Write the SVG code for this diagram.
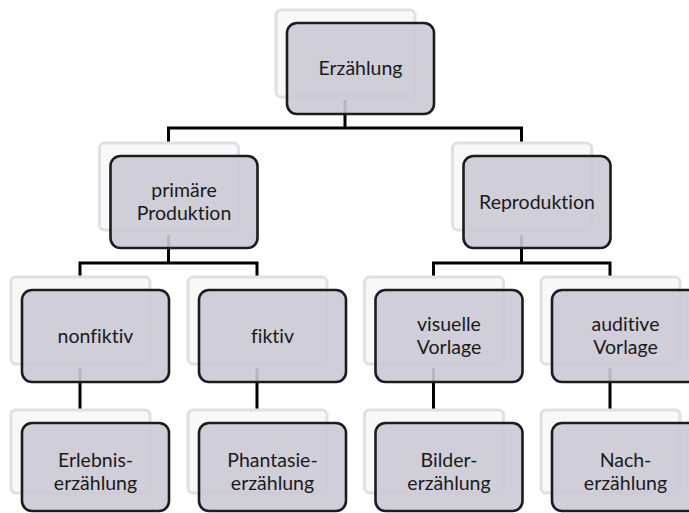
<svg xmlns="http://www.w3.org/2000/svg" width="689" height="513" viewBox="0 0 689 513">
<style>
.sh{fill:#f8f8f9;stroke:#e0e0e2;stroke-width:3}
.bx{fill:#cbc9d5;fill-opacity:0.9;stroke:#1c1c1c;stroke-width:2.6}
.t{font-family:Lato,"Liberation Sans",sans-serif;font-size:19.5px;fill:#1a1a1a;text-anchor:middle;font-variant-ligatures:none}
.cn{fill:none;stroke:#000;stroke-width:3;stroke-linejoin:miter}
</style>
<rect width="689" height="513" fill="#fff"/>
<g id="connectors" class="cn">
<path d="M345,100V128"/>
<path d="M168.5,143V128H521.5V143"/>
<path d="M168.5,235V263"/>
<path d="M80,277V263H257V277"/>
<path d="M521.5,235V263"/>
<path d="M433.5,277V263H610V277"/>
<path d="M80,368V410"/>
<path d="M257,368V410"/>
<path d="M433.5,368V410"/>
<path d="M610,368V410"/>
</g>
<g id="n-erzaehlung">
<rect class="sh" x="276" y="10" width="139" height="87" rx="5"/>
<rect class="bx" x="287" y="23" width="147" height="91" rx="10"/>
<text class="t" x="360.5" y="75">Erzählung</text>
</g>
<g id="n-primaere">
<rect class="sh" x="99.5" y="143" width="139" height="87" rx="5"/>
<rect class="bx" x="110.5" y="156" width="147" height="92" rx="10"/>
<text class="t" x="184" y="197">primäre</text>
<text class="t" x="184" y="220">Produktion</text>
</g>
<g id="n-reproduktion">
<rect class="sh" x="452.5" y="143" width="139" height="87" rx="5"/>
<rect class="bx" x="463.5" y="156" width="147" height="92" rx="10"/>
<text class="t" x="537" y="209">Reproduktion</text>
</g>
<g id="n-nonfiktiv">
<rect class="sh" x="11" y="277" width="139" height="87" rx="5"/>
<rect class="bx" x="22" y="290" width="147" height="92" rx="10"/>
<text class="t" x="95.5" y="343">nonfiktiv</text>
</g>
<g id="n-fiktiv">
<rect class="sh" x="188" y="277" width="139" height="87" rx="5"/>
<rect class="bx" x="199" y="290" width="147" height="92" rx="10"/>
<text class="t" x="272.5" y="343">fiktiv</text>
</g>
<g id="n-visuelle">
<rect class="sh" x="364.5" y="277" width="139" height="87" rx="5"/>
<rect class="bx" x="375.5" y="290" width="147" height="92" rx="10"/>
<text class="t" x="449" y="331">visuelle</text>
<text class="t" x="449" y="354">Vorlage</text>
</g>
<g id="n-auditive">
<rect class="sh" x="541" y="277" width="139" height="87" rx="5"/>
<rect class="bx" x="552" y="290" width="147" height="92" rx="10"/>
<text class="t" x="625.5" y="331">auditive</text>
<text class="t" x="625.5" y="354">Vorlage</text>
</g>
<g id="n-erlebnis">
<rect class="sh" x="11" y="410" width="139" height="83" rx="5"/>
<rect class="bx" x="22" y="423" width="147" height="88" rx="10"/>
<text class="t" x="95.5" y="467">Erlebnis-</text>
<text class="t" x="95.5" y="490">erzählung</text>
</g>
<g id="n-phantasie">
<rect class="sh" x="188" y="410" width="139" height="83" rx="5"/>
<rect class="bx" x="199" y="423" width="147" height="88" rx="10"/>
<text class="t" x="272.5" y="467">Phantasie-</text>
<text class="t" x="272.5" y="490">erzählung</text>
</g>
<g id="n-bilder">
<rect class="sh" x="364.5" y="410" width="139" height="83" rx="5"/>
<rect class="bx" x="375.5" y="423" width="147" height="88" rx="10"/>
<text class="t" x="449" y="467">Bilder-</text>
<text class="t" x="449" y="490">erzählung</text>
</g>
<g id="n-nach">
<rect class="sh" x="541" y="410" width="139" height="83" rx="5"/>
<rect class="bx" x="552" y="423" width="147" height="88" rx="10"/>
<text class="t" x="625.5" y="467">Nach-</text>
<text class="t" x="625.5" y="490">erzählung</text>
</g>
</svg>
